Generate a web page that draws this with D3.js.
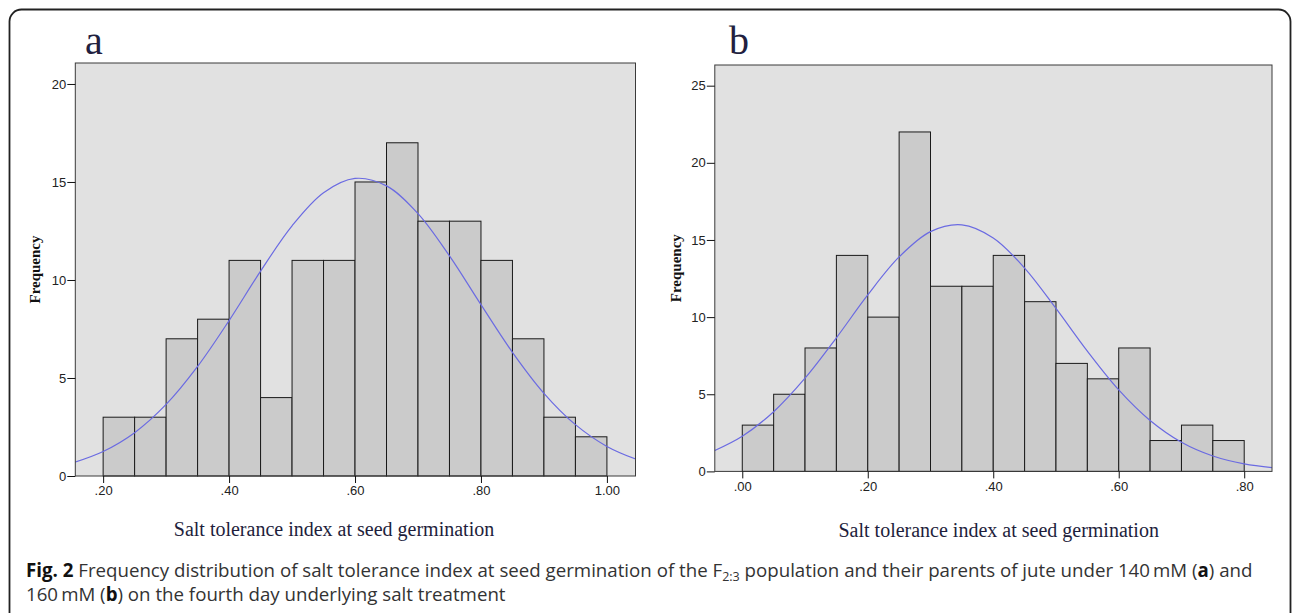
<!DOCTYPE html>
<html lang="en">
<head>
<meta charset="UTF-8"/>
<script src="https://d3js.org/d3.v7.min.js"></script>
<style>
  body { margin: 0; background: #fff; }
</style>
</head>
<body>
<svg width="1292" height="613"></svg>
<script>
// panel a : 140 mM
const binStartA = [0.20,0.25,0.30,0.35,0.40,0.45,0.50,0.55,0.60,0.65,0.70,0.75,0.80,0.85,0.90,0.95];
const countA    = [3,3,7,8,11,4,11,11,15,17,13,13,11,7,3,2];
const curveXA   = [0.15,0.20,0.25,0.30,0.35,0.40,0.45,0.50,0.55,0.60,0.65,0.70,0.75,0.80,0.85,0.90,0.95,1.00,1.05];
const curveYA   = [0.65,1.25,2.21,3.65,5.59,7.93,10.45,12.76,14.45,15.18,14.80,13.39,11.23,8.74,6.31,4.22,2.62,1.51,0.81];
const xTickA    = [0.2,0.4,0.6,0.8,1.0];
const xLabelA   = [".20",".40",".60",".80","1.00"];
const yTickA    = [0,5,10,15,20];

// panel b : 160 mM
const binStartB = [0.00,0.05,0.10,0.15,0.20,0.25,0.30,0.35,0.40,0.45,0.50,0.55,0.60,0.65,0.70,0.75];
const countB    = [3,5,8,14,10,22,12,12,14,11,7,6,8,2,3,2];
const curveXB   = [-0.05,0.00,0.05,0.10,0.15,0.20,0.25,0.30,0.35,0.40,0.45,0.50,0.55,0.60,0.65,0.70,0.75,0.80,0.85];
const curveYB   = [1.24,2.28,3.87,6.04,8.66,11.44,13.90,15.54,15.98,15.13,13.18,10.56,7.79,5.28,3.30,1.89,1.00,0.49,0.22];
const xTickB    = [0,0.2,0.4,0.6,0.8];
const xLabelB   = [".00",".20",".40",".60",".80"];
const yTickB    = [0,5,10,15,20,25];

const binWidth = 0.05;
const xTitle = "Salt tolerance index at seed germination";
const yTitle = "Frequency";

var svg = d3.select("svg");

// outer rounded frame of the figure
svg.append("rect")
  .attr("x", 9.5).attr("y", 9.5)
  .attr("width", 1281).attr("height", 700)
  .attr("rx", 12)
  .attr("fill", "none")
  .attr("stroke", "#222")
  .attr("stroke-width", 1.8);

function drawPanel(p) {
  var x = d3.scaleLinear().domain(p.xDomain).range([p.left, p.right]);
  var y = d3.scaleLinear().domain(p.yDomain).range([p.bottom, p.top]);

  var g = svg.append("g");

  // plot background
  g.append("rect")
    .attr("x", p.left).attr("y", p.top)
    .attr("width", p.right - p.left).attr("height", p.bottom - p.top)
    .attr("fill", "#e1e1e1");

  g.append("clipPath").attr("id", p.id + "clip")
    .append("rect")
    .attr("x", p.left).attr("y", p.top)
    .attr("width", p.right - p.left).attr("height", p.bottom - p.top);

  // bars
  g.selectAll("rect.bar")
    .data(p.starts)
    .enter()
    .append("rect")
    .attr("class", "bar")
    .attr("x", d => x(d))
    .attr("width", d => x(d + binWidth) - x(d))
    .attr("y", (d, i) => y(p.counts[i]))
    .attr("height", (d, i) => y(0) - y(p.counts[i]))
    .attr("fill", "#cbcbcb")
    .attr("stroke", "#1a1a1a")
    .attr("stroke-width", 1);

  // normal curve
  var line = d3.line()
    .x(d => x(d[0]))
    .y(d => y(d[1]))
    .curve(d3.curveCatmullRom);
  g.append("path")
    .datum(p.curveX.map((v, i) => [v, p.curveY[i]]))
    .attr("clip-path", "url(#" + p.id + "clip)")
    .attr("d", line)
    .attr("fill", "none")
    .attr("stroke", "#6b6be2")
    .attr("stroke-width", 1.2);

  // frame
  g.append("rect")
    .attr("x", p.left).attr("y", p.top)
    .attr("width", p.right - p.left).attr("height", p.bottom - p.top)
    .attr("fill", "none")
    .attr("stroke", "#3a3a3a")
    .attr("stroke-width", 1);

  // axes
  var yAxis = d3.axisLeft(y).tickValues(p.yTicks).tickSize(8).tickPadding(1)
    .tickFormat(d3.format("d"));
  var ya = g.append("g")
    .attr("transform", "translate(" + p.left + ",0)")
    .call(yAxis);

  var xAxis = d3.axisBottom(x).tickValues(p.xTicks).tickSize(7).tickPadding(3)
    .tickFormat((d, i) => p.xLabels[i]);
  var xa = g.append("g")
    .attr("transform", "translate(0," + p.bottom + ")")
    .call(xAxis);

  [ya, xa].forEach(a => {
    a.select(".domain").remove();
    a.selectAll(".tick line").attr("stroke", "#111");
    a.selectAll(".tick text")
      .attr("fill", "#222")
      .style("font-family", "'Liberation Sans Narrow','Arial Narrow','Liberation Sans',Arial,sans-serif")
      .style("font-size", "13px");
  });

  // panel letter
  svg.append("text")
    .attr("x", p.letterX).attr("y", 54)
    .attr("fill", "#221f40")
    .style("font-family", "'Liberation Serif','Times New Roman',serif")
    .style("font-size", "40px")
    .text(p.letter);

  // y title
  svg.append("text")
    .attr("transform", "translate(" + p.yTitleX + "," + ((p.top + p.bottom) / 2) + ") rotate(-90)")
    .attr("text-anchor", "middle")
    .attr("fill", "#111")
    .style("font-family", "'Liberation Serif','Times New Roman',serif")
    .style("font-weight", "bold")
    .style("font-size", "15px")
    .text(yTitle);

  // x title
  svg.append("text")
    .attr("x", p.xTitleX).attr("y", p.xTitleY)
    .attr("text-anchor", "middle")
    .attr("fill", "#1e1e3c")
    .style("font-family", "'Liberation Serif','Times New Roman',serif")
    .style("font-size", "20px")
    .text(xTitle);
}

drawPanel({
  id: "pa", letter: "a", letterX: 85,
  starts: binStartA, counts: countA, curveX: curveXA, curveY: curveYA,
  xTicks: xTickA, xLabels: xLabelA, yTicks: yTickA,
  left: 75.3, right: 635.5, top: 63, bottom: 476,
  xDomain: [0.1558, 1.0454], yDomain: [0, 21.07],
  yTitleX: 39.5, xTitleX: 334, xTitleY: 536
});

drawPanel({
  id: "pb", letter: "b", letterX: 729,
  starts: binStartB, counts: countB, curveX: curveXB, curveY: curveYB,
  xTicks: xTickB, xLabels: xLabelB, yTicks: yTickB,
  left: 714.8, right: 1272, top: 65, bottom: 471.4,
  xDomain: [-0.0438, 0.8443], yDomain: [0, 26.34],
  yTitleX: 681, xTitleX: 998.7, xTitleY: 537
});

// caption
var cap = svg.append("text")
  .attr("x", 26).attr("y", 577)
  .attr("fill", "#333")
  .style("font-family", "'Open Sans',sans-serif")
  .style("font-size", "18.7px");
cap.append("tspan").attr("font-weight", "bold").attr("fill", "#111").text("Fig. 2");
cap.append("tspan").text(" Frequency distribution of salt tolerance index at seed germination of the F");
cap.append("tspan").attr("dy", 4).style("font-size", "12.5px").text("2:3");
cap.append("tspan").attr("dy", -4).text(" population and their parents of jute under 140\u2009mM (");
cap.append("tspan").attr("font-weight", "bold").attr("fill", "#111").text("a");
cap.append("tspan").text(") and");

var cap2 = svg.append("text")
  .attr("x", 26).attr("y", 601)
  .attr("fill", "#333")
  .style("font-family", "'Open Sans',sans-serif")
  .style("font-size", "18.7px");
cap2.append("tspan").text("160\u2009mM (");
cap2.append("tspan").attr("font-weight", "bold").attr("fill", "#111").text("b");
cap2.append("tspan").text(") on the fourth day underlying salt treatment");
</script>
</body>
</html>
